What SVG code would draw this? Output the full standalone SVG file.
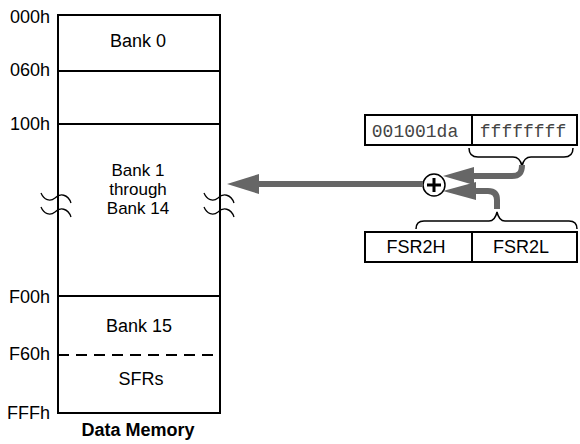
<svg xmlns="http://www.w3.org/2000/svg" width="580" height="444" viewBox="0 0 580 444">
<style>
.t{font-family:"Liberation Sans",Arial,sans-serif;font-size:18px;fill:#000}
.s{font-size:17px}
.lbl{text-anchor:end}
.c{text-anchor:middle}
.b{font-weight:bold}
.m{font-family:"Liberation Mono","Courier New",monospace;font-size:18px;fill:#444;text-anchor:middle}
.ln{stroke:#000;stroke-width:2;fill:none}
.br{stroke:#000;stroke-width:1.5;fill:none}
.sq{stroke:#000;stroke-width:1.3;fill:none}
.ar{stroke:#666;stroke-width:6;fill:none}
.ah{fill:#666}
</style>
<g id="memory">
<rect x="58" y="15" width="162" height="398" class="ln"/>
<line x1="58" y1="71" x2="220" y2="71" class="ln"/>
<line x1="58" y1="124" x2="220" y2="124" class="ln"/>
<line x1="58" y1="296" x2="220" y2="296" class="ln"/>
<line x1="58" y1="355" x2="220" y2="355" class="ln" stroke-dasharray="11 7"/>
<path class="sq" d="M41 193 C44 200,50 202,55 198 C60 193,68 194,71 203"/>
<path class="sq" d="M41 207 C44 214,50 216,55 212 C60 207,68 208,71 217"/>
<path class="sq" d="M204 193 C207 200,213 202,218 198 C223 193,231 194,234 203"/>
<path class="sq" d="M204 207 C207 214,213 216,218 212 C223 207,231 208,234 217"/>
<text class="t lbl" x="50" y="23">000h</text>
<text class="t lbl" x="50" y="76">060h</text>
<text class="t lbl" x="50" y="130">100h</text>
<text class="t lbl" x="50" y="303">F00h</text>
<text class="t lbl" x="50" y="360">F60h</text>
<text class="t lbl" x="50" y="419">FFFh</text>
<text class="t c" x="138" y="47">Bank 0</text>
<text class="t s c" x="138" y="176">Bank 1</text>
<text class="t s c" x="138" y="195">through</text>
<text class="t s c" x="138" y="214">Bank 14</text>
<text class="t c" x="139" y="332">Bank 15</text>
<text class="t c" x="141" y="385">SFRs</text>
<text class="t c b" x="138" y="436">Data Memory</text>
</g>
<g id="pointer">
<rect x="365" y="115" width="212" height="30" class="ln"/>
<line x1="472" y1="115" x2="472" y2="145" class="ln"/>
<text class="m" x="415" y="137">001001da</text>
<text class="m" x="523" y="137">ffffffff</text>
<path class="br" d="M469 148 Q469 157 478 157 L513 157 Q520 157 522 166 Q524 157 531 157 L564 157 Q573 157 573 148"/>
</g>
<g id="fsr">
<rect x="365" y="232" width="212" height="30" class="ln"/>
<line x1="472" y1="232" x2="472" y2="262" class="ln"/>
<text class="t c" x="416" y="253">FSR2H</text>
<text class="t c" x="521" y="253">FSR2L</text>
<path class="br" d="M416 229 Q416 221 424 221 L489 221 Q495 221 497 212 Q499 221 505 221 L569 221 Q577 221 577 229"/>
</g>
<g id="adder">
<circle cx="434" cy="185" r="11" fill="#fff" stroke="#000" stroke-width="1.5"/>
<path d="M427 185 H441 M434 178 V192" stroke="#000" stroke-width="3" fill="none"/>
</g>
<g id="connectors">
<path class="ar" d="M423 184 H255"/>
<polygon class="ah" points="227,184 259,174 259,194"/>
<path class="ar" d="M522 165 C522 173,519 176,512 176 H470"/>
<polygon class="ah" points="443,176 474,167 474,185"/>
<path class="ar" d="M497 209 V200 C497 194,494 191,488 191 H472"/>
<polygon class="ah" points="443,191 476,182 476,200"/>
</g>
</svg>
